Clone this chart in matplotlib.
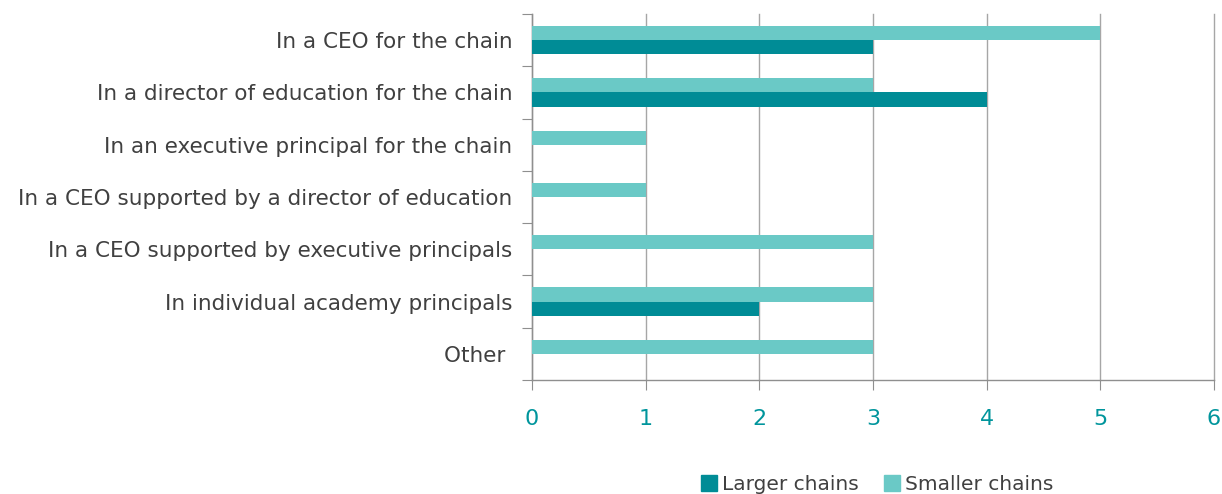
import matplotlib
matplotlib.use("Agg")
import matplotlib.pyplot as plt
from matplotlib.lines import Line2D
import numpy as np

categories = [
    "In a CEO for the chain",
    "In a director of education for the chain",
    "In an executive principal for the chain",
    "In a CEO supported by a director of education",
    "In a CEO supported by executive principals",
    "In individual academy principals",
    "Other ",
]
larger = [3, 4, 0, 0, 0, 2, 0]
smaller = [5, 3, 1, 1, 3, 3, 3]
series_names = ["Larger chains", "Smaller chains"]
x_ticks = [0, 1, 2, 3, 4, 5, 6]

c_large = "#008C96"
c_small = "#6AC9C6"
teal_txt = "#00959C"
grey_line = "#A6A6A6"
spine_col = "#8F8F8F"
text_col = "#404040"

plt.rcParams['font.family'] = ['DejaVu Sans']

fig = plt.figure(figsize=(12.22, 4.94), dpi=100)
ax = fig.add_axes([0.4354, 0.2308, 0.9935 - 0.4354, 0.9717 - 0.2308])

y = np.arange(len(categories))
h = 0.27
ax.barh(y - h / 2, smaller, height=h, color=c_small, zorder=3)
ax.barh(y + h / 2, larger, height=h, color=c_large, zorder=3)

ax.set_ylim(len(categories) - 0.5, -0.5)
ax.set_xlim(0, 6)
ax.set_xticks(x_ticks)
ax.set_xticklabels([str(t) for t in x_ticks], color=teal_txt, fontsize=16)
ax.tick_params(axis='x', length=7, color=spine_col, pad=14, direction='out')

ax.set_yticks(np.arange(len(categories) + 1) - 0.5)
ax.set_yticklabels([])
ax.tick_params(axis='y', which='major', length=7, color=spine_col, direction='out')
ax.set_yticks(y, minor=True)
ax.set_yticklabels(categories, minor=True, fontsize=15.5, color=text_col)
ax.tick_params(axis='y', which='minor', length=0, pad=14)

ax.grid(axis='x', color=grey_line, linewidth=1, zorder=0)
for gl in ax.get_xgridlines():
    gl.set_clip_on(False)
for s in ['top', 'right']:
    ax.spines[s].set_visible(False)
for s in ['left', 'bottom']:
    ax.spines[s].set_color(spine_col)
    ax.spines[s].set_linewidth(1)

handles = [Line2D([], [], marker='s', linestyle='none', markersize=11, color=c_large),
           Line2D([], [], marker='s', linestyle='none', markersize=11, color=c_small)]
fig.legend(handles, series_names, loc='center', bbox_to_anchor=(0.7185, 0.019),
           ncol=2, frameon=False, fontsize=14.5, handlelength=0.7, handletextpad=0.3,
           columnspacing=1.3, labelcolor=text_col, borderpad=0)

fig.savefig("out.png", dpi=100)
